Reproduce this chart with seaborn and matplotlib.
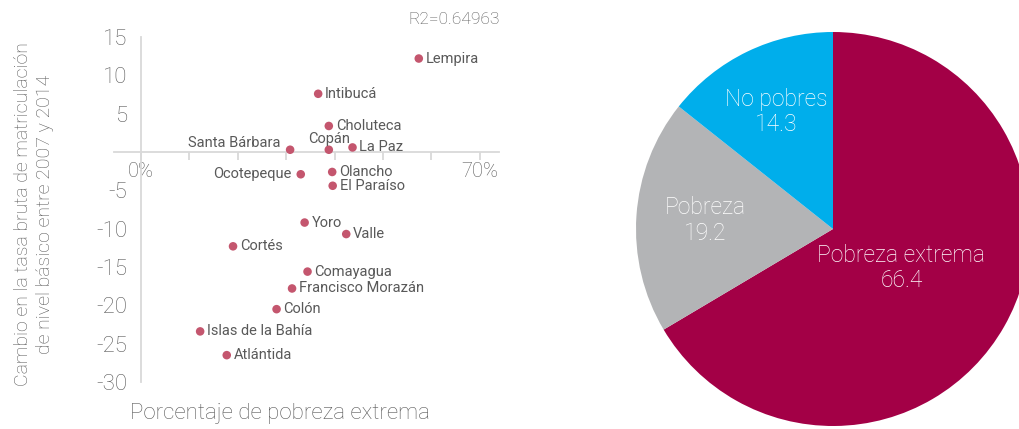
import matplotlib
matplotlib.use('Agg')
import matplotlib.pyplot as plt
import seaborn as sns
import pandas as pd
import numpy as np

# Scatter data: % extreme poverty vs change in enrolment rate
departamentos = ['Lempira', 'Intibucá', 'Choluteca', 'Santa Bárbara', 'Copán', 'La Paz',
                 'Ocotepeque', 'Olancho', 'El Paraíso', 'Yoro', 'Valle', 'Cortés',
                 'Comayagua', 'Francisco Morazán', 'Colón', 'Islas de la Bahía', 'Atlántida']
pobreza_extrema = [0.574, 0.366, 0.388, 0.308, 0.388, 0.437,
                   0.330, 0.395, 0.396, 0.338, 0.424, 0.190,
                   0.344, 0.312, 0.280, 0.122, 0.177]
cambio_tasa = [12.2, 7.6, 3.4, 0.3, 0.3, 0.6,
               -2.9, -2.6, -4.4, -9.2, -10.7, -12.3,
               -15.6, -17.8, -20.5, -23.4, -26.5]

# Pie data
categorias = ['Pobreza extrema', 'Pobreza', 'No pobres']
porcentajes = [66.4, 19.2, 14.3]

sns.set_theme(style='white')
plt.rcParams['font.family'] = ['Roboto', 'DejaVu Sans']

grey_txt = '#595959'
dot_col = '#C4566E'
axis_col = '#D9D9D9'

df = pd.DataFrame({'dep': departamentos, 'x': pobreza_extrema, 'y': cambio_tasa})

fig = plt.figure(figsize=(10.2, 4.29), dpi=100)

# ---- scatter ----
ax = fig.add_axes([0.1118, 0.1096, 0.3775, 0.804])
sns.scatterplot(data=df, x='x', y='y', ax=ax, color=dot_col, s=38, edgecolor='none', zorder=3)
ax.set_xlim(-0.056, 0.740)
ax.set_ylim(-30, 15)

for sp in ['top', 'right']:
    ax.spines[sp].set_visible(False)
ax.spines['left'].set_position(('data', 0))
ax.spines['bottom'].set_position(('data', 0))
for sp in ['left', 'bottom']:
    ax.spines[sp].set_color(axis_col)
    ax.spines[sp].set_linewidth(1.3)

xt = np.arange(0, 0.71, 0.1)
ax.set_xticks(xt)
ax.set_xticklabels(['0%', '', '', '', '', '', '', '70%'][:len(xt)])
ax.set_yticks([15, 10, 5, -5, -10, -15, -20, -25, -30])
ax.set_yticklabels(['15', '10', '5', '-5', '-10', '-15', '-20', '-25', '-30'])
ax.tick_params(axis='x', direction='out', length=6, width=1.3, color=axis_col,
               labelsize=14.5, labelcolor=grey_txt, pad=1, bottom=True)
ax.tick_params(axis='y', length=0, labelsize=16, labelcolor=grey_txt, pad=10)
for lab in ax.get_xticklabels() + ax.get_yticklabels():
    lab.set_fontweight('light')
ax.set_xlabel('')
ax.set_ylabel('')

# point labels
left_labels = {'Santa Bárbara', 'Ocotepeque'}
for d, xv, yv in zip(departamentos, pobreza_extrema, cambio_tasa):
    if d in left_labels:
        ax.annotate(d, (xv, yv), xytext=(-7, 0), textcoords='offset points',
                    ha='right', va='bottom' if d == 'Santa Bárbara' else 'center',
                    fontsize=10.5, color=grey_txt)
    elif d == 'Copán':
        ax.annotate(d, (xv, yv), xytext=(0, 3), textcoords='offset points',
                    ha='center', va='bottom', fontsize=10.5, color=grey_txt)
    else:
        ax.annotate(d, (xv, yv), xytext=(5, 0), textcoords='offset points',
                    ha='left', va='center', fontsize=10.5, color=grey_txt)

fig.text(500 / 1020, 1 - 20 / 429, 'R2=0.64963', ha='right', va='center',
         fontsize=12.5, color=grey_txt, fontweight='light')
fig.text(34 / 1020, 1 - 214 / 429,
         'Cambio en la tasa bruta de matriculación\nde nivel básico entre 2007 y 2014',
         rotation=90, ha='center', va='center', multialignment='center',
         fontsize=14, color=grey_txt, linespacing=1.3, fontweight='light')
fig.text(280 / 1020, 1 - 414 / 429, 'Porcentaje de pobreza extrema', ha='center',
         va='center', fontsize=16, color=grey_txt, fontweight='light')

# ---- pie ----
axp = fig.add_axes([(833 - 197) / 1020, 1 - (229 + 197) / 429, 394 / 1020, 394 / 429])
colores = ['#A30046', '#B3B4B6', '#00AEEB']
wedges, _ = axp.pie(porcentajes, colors=colores, startangle=90, counterclock=False,
                    wedgeprops=dict(linewidth=0))
axp.set_xlim(-1, 1)
axp.set_ylim(-1, 1)
axp.set_aspect('equal')
axp.axis('off')

dist = [0.40, 0.65, 0.66]
for w, cat, val, r in zip(wedges, categorias, porcentajes, dist):
    ang = np.deg2rad((w.theta1 + w.theta2) / 2)
    axp.text(r * np.cos(ang), r * np.sin(ang), f'{cat}\n{val}', ha='center', va='center',
             color='white', fontsize=16.5, linespacing=1.15, fontweight='light')

fig.savefig('out.png', dpi=100)
